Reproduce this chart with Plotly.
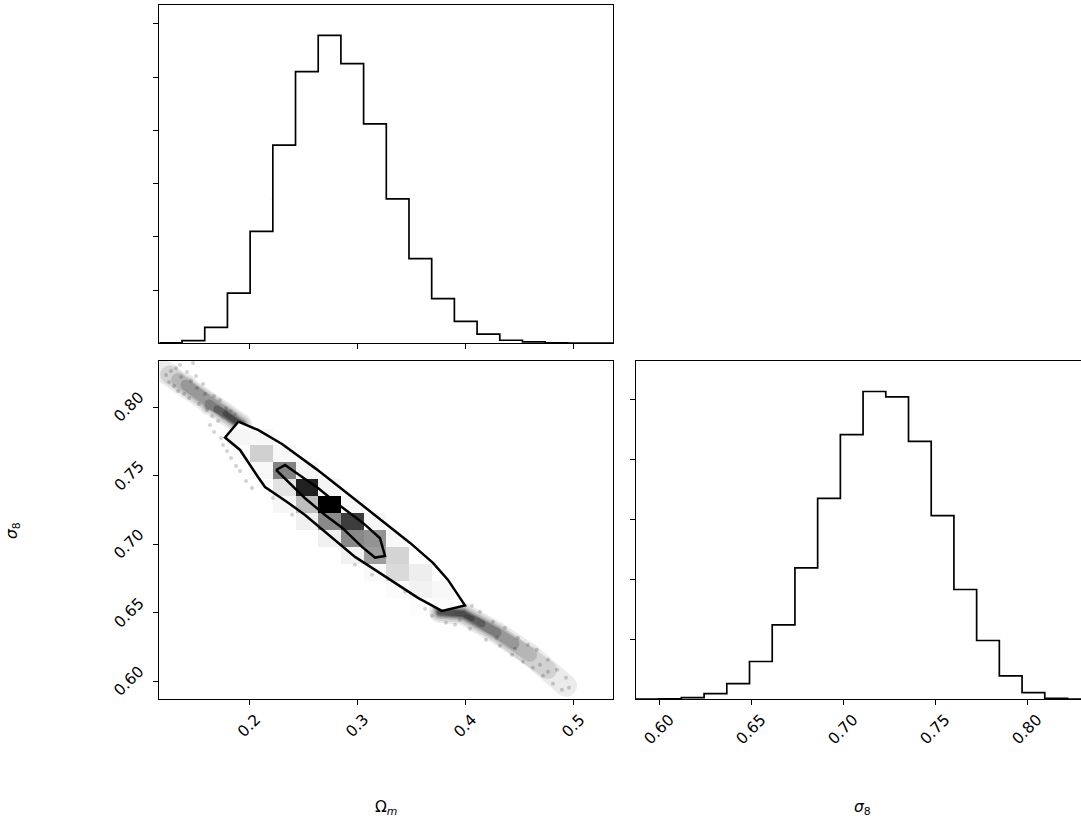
import numpy as np
import plotly.graph_objects as go

# ---------------------------------------------------------------------------
# Data
# ---------------------------------------------------------------------------
# Sample extent of each parameter (axis limits) and number of histogram bins
OM_RANGE = (0.1170, 0.5370)
S8_RANGE = (0.5870, 0.8340)
N_BINS = 20

# Marginal histogram counts (20 bins over the ranges above)
om_counts = [2, 15, 90, 282, 630, 1116, 1530, 1734, 1575, 1236,
             813, 477, 252, 123, 51, 17, 8, 2, 1, 1]
s8_counts = [1, 2, 8, 28, 78, 189, 372, 657, 1005, 1323,
             1539, 1512, 1290, 918, 549, 294, 117, 33, 5, 1]

# Joint 2D histogram, one row per sigma_8 bin listed from the highest bin
# down; columns are the Omega_m bins from low to high.
joint_counts_top_down = [
    [1, 0, 0, 0, 0, 0, 0, 0, 0, 0, 0, 0, 0, 0, 0, 0, 0, 0, 0, 0],
    [1, 3, 0, 0, 0, 0, 0, 0, 0, 0, 0, 0, 0, 0, 0, 0, 0, 0, 0, 0],
    [0, 8, 25, 0, 0, 0, 0, 0, 0, 0, 0, 0, 0, 0, 0, 0, 0, 0, 0, 0],
    [0, 4, 50, 40, 15, 0, 0, 0, 0, 0, 0, 0, 0, 0, 0, 0, 0, 0, 0, 0],
    [0, 0, 15, 150, 133, 5, 0, 0, 0, 0, 0, 0, 0, 0, 0, 0, 0, 0, 0, 0],
    [0, 0, 0, 88, 343, 130, 10, 0, 0, 0, 0, 0, 0, 0, 0, 0, 0, 0, 0, 0],
    [0, 0, 0, 4, 133, 560, 158, 12, 0, 0, 0, 0, 0, 0, 0, 0, 0, 0, 0, 0],
    [0, 0, 0, 0, 6, 265, 748, 160, 5, 0, 0, 0, 0, 0, 0, 0, 0, 0, 0, 0],
    [0, 0, 0, 0, 0, 150, 404, 800, 133, 2, 0, 0, 0, 0, 0, 0, 0, 0, 0, 0],
    [0, 0, 0, 0, 0, 6, 194, 542, 700, 140, 0, 0, 0, 0, 0, 0, 0, 0, 0, 0],
    [0, 0, 0, 0, 0, 0, 16, 194, 546, 520, 130, 0, 0, 0, 0, 0, 0, 0, 0, 0],
    [0, 0, 0, 0, 0, 0, 0, 26, 181, 495, 330, 10, 0, 0, 0, 0, 0, 0, 0, 0],
    [0, 0, 0, 0, 0, 0, 0, 0, 10, 118, 305, 205, 2, 0, 0, 0, 0, 0, 0, 0],
    [0, 0, 0, 0, 0, 0, 0, 0, 0, 6, 95, 180, 130, 20, 0, 0, 0, 0, 0, 0],
    [0, 0, 0, 0, 0, 0, 0, 0, 0, 0, 8, 77, 100, 60, 15, 0, 0, 0, 0, 0],
    [0, 0, 0, 0, 0, 0, 0, 0, 0, 0, 0, 5, 20, 35, 20, 5, 0, 0, 0, 0],
    [0, 0, 0, 0, 0, 0, 0, 0, 0, 0, 0, 0, 0, 8, 12, 6, 3, 0, 0, 0],
    [0, 0, 0, 0, 0, 0, 0, 0, 0, 0, 0, 0, 0, 0, 4, 4, 3, 1, 0, 0],
    [0, 0, 0, 0, 0, 0, 0, 0, 0, 0, 0, 0, 0, 0, 0, 2, 2, 1, 1, 0],
    [0, 0, 0, 0, 0, 0, 0, 0, 0, 0, 0, 0, 0, 0, 0, 0, 0, 0, 0, 1],
]

# Credible-region contours (outer and inner), closed polygons
outer_om = [0.1901, 0.2083, 0.2305, 0.2435, 0.2620, 0.2823, 0.2999, 0.3240,
            0.3490, 0.3702, 0.3841, 0.3998, 0.3785, 0.3563, 0.3351, 0.3166,
            0.2981, 0.2796, 0.2673, 0.2518, 0.2352, 0.2222, 0.2148, 0.2083,
            0.1991, 0.1917, 0.1778, 0.1901]
outer_s8 = [0.7895, 0.7835, 0.7733, 0.7660, 0.7551, 0.7426, 0.7317, 0.7164,
            0.7011, 0.6865, 0.6741, 0.6555, 0.6515, 0.6610, 0.6716, 0.6814,
            0.6909, 0.7033, 0.7118, 0.7215, 0.7310, 0.7383, 0.7419, 0.7492,
            0.7601, 0.7689, 0.7780, 0.7895]
inner_om = [0.2250, 0.2333, 0.2488, 0.2641, 0.2811, 0.3057, 0.3212, 0.3258,
            0.3166, 0.3045, 0.2858, 0.2703, 0.2518, 0.2352, 0.2250]
inner_s8 = [0.7543, 0.7579, 0.7494, 0.7410, 0.7300, 0.7155, 0.7045, 0.6916,
            0.6904, 0.6982, 0.7124, 0.7215, 0.7337, 0.7466, 0.7543]

# Dense parts of the sample cloud beyond the contours: spine of each tail,
# one path per density level (faintest / longest first)
upper_band_om = [[0.1926, 0.1778, 0.1630, 0.1417, 0.1260, 0.1204],
                 [0.1926, 0.1778, 0.1630, 0.1417, 0.1260],
                 [0.1926, 0.1778, 0.1630, 0.1417, 0.1343],
                 [0.1926, 0.1778, 0.1630, 0.1417],
                 [0.1926, 0.1778, 0.1630],
                 [0.1926, 0.1778, 0.1704],
                 [0.1926, 0.1778]]
upper_band_s8 = [[0.7875, 0.7955, 0.8024, 0.8163, 0.8239, 0.8265],
                 [0.7875, 0.7955, 0.8024, 0.8163, 0.8239],
                 [0.7875, 0.7955, 0.8024, 0.8163, 0.8199],
                 [0.7875, 0.7955, 0.8024, 0.8163],
                 [0.7875, 0.7955, 0.8024],
                 [0.7875, 0.7955, 0.7987],
                 [0.7875, 0.7955]]
lower_band_om = [[0.3767, 0.3980, 0.4294, 0.4599, 0.4932],
                 [0.3767, 0.3980, 0.4294, 0.4599, 0.4766],
                 [0.3767, 0.3980, 0.4294, 0.4599],
                 [0.3767, 0.3980, 0.4294, 0.4451],
                 [0.3767, 0.3980, 0.4294],
                 [0.3767, 0.3980, 0.4155],
                 [0.3767, 0.3980, 0.4063]]
lower_band_s8 = [[0.6508, 0.6494, 0.6355, 0.6195, 0.5969],
                 [0.6508, 0.6494, 0.6355, 0.6195, 0.6085],
                 [0.6508, 0.6494, 0.6355, 0.6195],
                 [0.6508, 0.6494, 0.6355, 0.6275],
                 [0.6508, 0.6494, 0.6355],
                 [0.6508, 0.6494, 0.6421],
                 [0.6508, 0.6494, 0.6457]]

# Individual samples visible in the tails
upper_tail_om = [0.1232, 0.1278, 0.1325, 0.1362, 0.1482, 0.1260, 0.1306, 0.1371,
                 0.1426, 0.1463, 0.1510, 0.1343, 0.1399, 0.1445, 0.1519, 0.1574,
                 0.1593, 0.1537, 0.1611, 0.1676, 0.1732, 0.1658, 0.1713, 0.1787,
                 0.1833, 0.1870, 0.1639, 0.1676, 0.1741, 0.1760, 0.1796, 0.1833,
                 0.1880, 0.1917, 0.1972, 0.2028, 0.2222, 0.2398]
upper_tail_s8 = [0.8235, 0.8265, 0.8287, 0.8309, 0.8323, 0.8185, 0.8155, 0.8221,
                 0.8257, 0.8192, 0.8228, 0.8119, 0.8097, 0.8068, 0.8141, 0.8170,
                 0.8097, 0.8024, 0.7981, 0.8083, 0.8054, 0.7937, 0.7900, 0.7995,
                 0.7973, 0.7951, 0.7871, 0.7820, 0.7776, 0.7725, 0.7682, 0.7631,
                 0.7572, 0.7536, 0.7463, 0.7412, 0.7339, 0.7216]
lower_tail_om = [0.3628, 0.3693, 0.3822, 0.3906, 0.4044, 0.4063, 0.4137, 0.4192,
                 0.4257, 0.4322, 0.4368, 0.4433, 0.4488, 0.4535, 0.4581, 0.4627,
                 0.4664, 0.4720, 0.4766, 0.4812, 0.4849, 0.4895, 0.4932, 0.4960,
                 0.4461, 0.4692, 0.4294, 0.3952, 0.4766,
                 0.2980, 0.3138, 0.3443, 0.3563, 0.3656, 0.3721]
lower_tail_s8 = [0.6530, 0.6479, 0.6428, 0.6413, 0.6384, 0.6552, 0.6508, 0.6304,
                 0.6435, 0.6261, 0.6392, 0.6195, 0.6319, 0.6144, 0.6268, 0.6100,
                 0.6231, 0.6042, 0.6158, 0.5984, 0.6085, 0.5940, 0.6027, 0.5955,
                 0.6239, 0.6122, 0.6319, 0.6450, 0.6071,
                 0.6851, 0.6778, 0.6655, 0.6625, 0.6581, 0.6537]

# Ticks
om_ticks = [0.2, 0.3, 0.4, 0.5]
om_tick_labels = ["0.2", "0.3", "0.4", "0.5"]
s8_ticks = [0.60, 0.65, 0.70, 0.75, 0.80]
s8_tick_labels = ["0.60", "0.65", "0.70", "0.75", "0.80"]
count_tick_step = 300

# ---------------------------------------------------------------------------
# Figure
# ---------------------------------------------------------------------------
FONT = dict(family="DejaVu Sans", size=15.5, color="black")
BAND_WIDTHS = [22, 18, 14, 11, 9, 7, 5]
BAND_ALPHAS = [0.08, 0.10, 0.13, 0.16, 0.20, 0.25, 0.30]

om_edges = np.linspace(OM_RANGE[0], OM_RANGE[1], N_BINS + 1)
s8_edges = np.linspace(S8_RANGE[0], S8_RANGE[1], N_BINS + 1)
joint = np.array(joint_counts_top_down[::-1], dtype=float)


def step_outline(edges, counts):
    x = np.concatenate([[edges[0]], edges])
    y = np.concatenate([[0], counts, [0]])
    return x, y


fig = go.Figure()

# Omega_m marginal
hx, hy = step_outline(om_edges, om_counts)
fig.add_trace(go.Scatter(x=hx, y=hy, mode="lines",
                         line=dict(color="black", width=1.7, shape="hv"),
                         xaxis="x", yaxis="y", hoverinfo="skip"))

# Joint panel, bottom layer: sample cloud, then white interior of outer contour
for paths_om, paths_s8 in ((upper_band_om, upper_band_s8),
                           (lower_band_om, lower_band_s8)):
    for k, (bx, by) in enumerate(zip(paths_om, paths_s8)):
        # round-capped stroke: line plus equal-size markers on its vertices,
        # faded as a whole by the trace opacity
        fig.add_trace(go.Scatter(
            x=bx, y=by, mode="lines+markers",
            line=dict(color="black", width=BAND_WIDTHS[k]),
            marker=dict(color="black", size=BAND_WIDTHS[k], line=dict(width=0)),
            opacity=BAND_ALPHAS[k],
            xaxis="x2", yaxis="y2", hoverinfo="skip"))
for tx, ty in ((upper_tail_om, upper_tail_s8), (lower_tail_om, lower_tail_s8)):
    fig.add_trace(go.Scatter(x=tx, y=ty, mode="markers",
                             marker=dict(color="black", size=4, opacity=0.18,
                                         line=dict(width=0)),
                             xaxis="x2", yaxis="y2", hoverinfo="skip"))
fig.add_trace(go.Scatter(x=outer_om, y=outer_s8, mode="lines", fill="toself",
                         fillcolor="white", line=dict(width=0, color="white"),
                         xaxis="x2", yaxis="y2", hoverinfo="skip"))

# Joint panel, top layer: density cells and contour lines
fig.add_trace(go.Heatmap(x=om_edges, y=s8_edges, z=joint,
                         colorscale=[[0, "rgba(255,255,255,0)"],
                                     [1, "rgba(0,0,0,1)"]],
                         zmin=0, zmax=joint.max(), showscale=False,
                         xaxis="x3", yaxis="y3", hoverinfo="skip"))
for cx, cy in ((outer_om, outer_s8), (inner_om, inner_s8)):
    fig.add_trace(go.Scatter(x=cx, y=cy, mode="lines",
                             line=dict(color="black", width=2.5),
                             xaxis="x3", yaxis="y3", hoverinfo="skip"))

# sigma_8 marginal
hx, hy = step_outline(s8_edges, s8_counts)
fig.add_trace(go.Scatter(x=hx, y=hy, mode="lines",
                         line=dict(color="black", width=1.7, shape="hv"),
                         xaxis="x4", yaxis="y4", hoverinfo="skip"))

# ---------------------------------------------------------------------------
# Axes
# ---------------------------------------------------------------------------
X_LEFT = [0.1474, 0.5673]
X_RIGHT = [0.5883, 1.0]
Y_TOP = [0.5829, 0.9943]
Y_BOTTOM = [0.1503, 0.5617]
S8_VISIBLE_MAX = 0.8290

axis_style = dict(showline=True, linecolor="black", linewidth=1, mirror=True,
                  ticks="outside", ticklen=5, tickwidth=1, tickcolor="black",
                  showgrid=False, zeroline=False, showticklabels=False,
                  fixedrange=True)

om_top = 1.1 * max(om_counts)
s8_top = 1.1 * max(s8_counts)

fig.update_layout(
    width=1081, height=823,
    margin=dict(l=0, r=0, t=0, b=0),
    paper_bgcolor="white", plot_bgcolor="white",
    showlegend=False,
    xaxis=dict(axis_style, domain=X_LEFT, anchor="y", range=list(OM_RANGE),
               tickvals=om_ticks),
    yaxis=dict(axis_style, domain=Y_TOP, anchor="x", range=[0, om_top],
               tickvals=list(range(count_tick_step, int(om_top), count_tick_step))),
    xaxis2=dict(axis_style, domain=X_LEFT, anchor="y2", range=list(OM_RANGE),
                tickvals=om_ticks),
    yaxis2=dict(axis_style, domain=Y_BOTTOM, anchor="x2", range=list(S8_RANGE),
                tickvals=s8_ticks),
    xaxis3=dict(overlaying="x2", anchor="y3", range=list(OM_RANGE),
                visible=False, fixedrange=True),
    yaxis3=dict(overlaying="y2", anchor="x3", range=list(S8_RANGE),
                visible=False, fixedrange=True),
    xaxis4=dict(axis_style, domain=X_RIGHT, anchor="y4",
                range=[S8_RANGE[0], S8_VISIBLE_MAX], tickvals=s8_ticks),
    yaxis4=dict(axis_style, domain=Y_BOTTOM, anchor="x4", range=[0, s8_top],
                mirror=False,
                tickvals=list(range(count_tick_step, int(s8_top), count_tick_step))),
)

# Rotated tick labels (centred on their ticks)
annotations = []
for v, t in zip(om_ticks, om_tick_labels):
    annotations.append(dict(x=v, xref="x2", y=Y_BOTTOM[0], yref="paper",
                            text=t, textangle=-45, showarrow=False,
                            xanchor="center", yanchor="top", yshift=-10,
                            borderpad=0, font=FONT))
for v, t in zip(s8_ticks, s8_tick_labels):
    annotations.append(dict(x=v, xref="x4", y=Y_BOTTOM[0], yref="paper",
                            text=t, textangle=-45, showarrow=False,
                            xanchor="center", yanchor="top", yshift=-10,
                            borderpad=0, font=FONT))
    annotations.append(dict(x=X_LEFT[0], xref="paper", y=v, yref="y2",
                            text=t, textangle=-45, showarrow=False,
                            xanchor="right", yanchor="middle", xshift=-10,
                            borderpad=0, font=FONT))

# Axis titles
annotations += [
    dict(x=sum(X_LEFT) / 2, y=0.0182, xref="paper", yref="paper",
         text="Ω<sub><i>m</i></sub>", showarrow=False,
         xanchor="center", yanchor="middle", font=FONT),
    dict(x=0.798, y=0.0182, xref="paper", yref="paper",
         text="<i>σ</i><sub>8</sub>", showarrow=False,
         xanchor="center", yanchor="middle", font=FONT),
    dict(x=0.012, y=sum(Y_BOTTOM) / 2, xref="paper", yref="paper",
         text="<i>σ</i><sub>8</sub>", showarrow=False, textangle=-90,
         xanchor="center", yanchor="middle", font=FONT),
]
fig.update_layout(annotations=annotations)

fig.write_html("out.html")
